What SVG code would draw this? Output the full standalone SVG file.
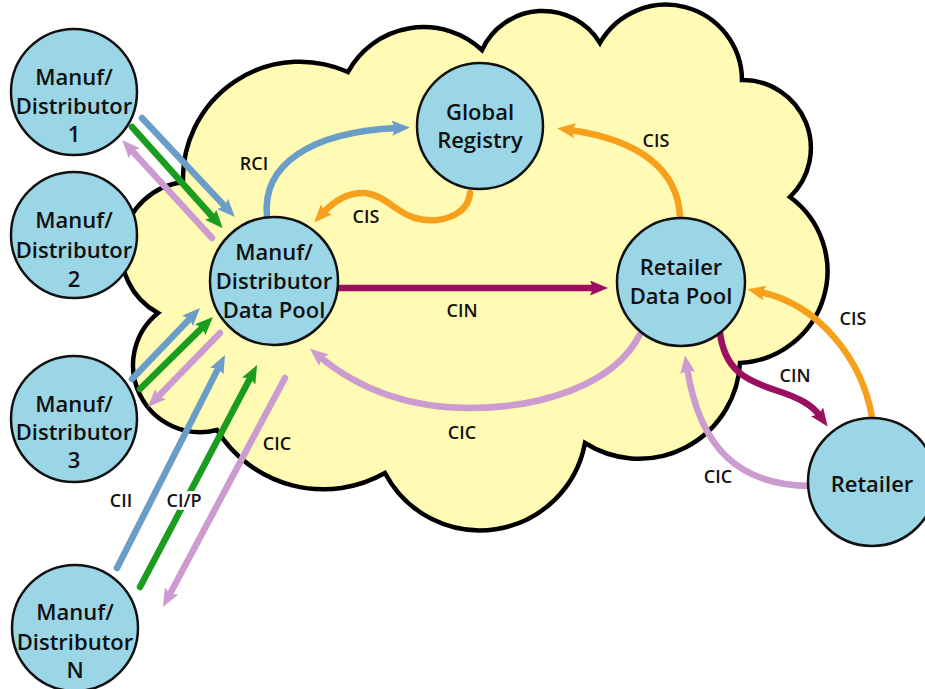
<svg xmlns="http://www.w3.org/2000/svg" width="925" height="689" viewBox="0 0 925 689">
<style>
.cloud{fill:#fffbb4;stroke:#000;stroke-width:4.5;stroke-linejoin:miter}
.node circle{fill:#9bd6e6;stroke:#111;stroke-width:2.5}
.node text{font-family:"Open Sans","Liberation Sans",sans-serif;font-weight:600;font-size:22px;fill:#111;text-anchor:middle}
.c{fill:none;stroke-width:6.5;stroke-linecap:round}
.blue{stroke:#6b9dc9}.green{stroke:#1a9c1e}.pink{stroke:#cc9bd0}.orange{stroke:#f7a01c}.mag{stroke:#9c0e5f}
.lbl{font-family:"Open Sans","Liberation Sans",sans-serif;font-weight:600;font-size:18px;fill:#111;text-anchor:middle}
.halo{stroke:#fff;stroke-width:6;paint-order:stroke;stroke-linejoin:round}
</style>
<defs>
<marker id="hb" markerUnits="userSpaceOnUse" markerWidth="18" markerHeight="15" viewBox="0 0 18 15" refX="5" refY="7.5" orient="auto"><path d="M0,0 L18,7.5 L0,15 L3,7.5 Z" fill="#6b9dc9"/></marker>
<marker id="hg" markerUnits="userSpaceOnUse" markerWidth="18" markerHeight="15" viewBox="0 0 18 15" refX="5" refY="7.5" orient="auto"><path d="M0,0 L18,7.5 L0,15 L3,7.5 Z" fill="#1a9c1e"/></marker>
<marker id="hp" markerUnits="userSpaceOnUse" markerWidth="18" markerHeight="15" viewBox="0 0 18 15" refX="5" refY="7.5" orient="auto"><path d="M0,0 L18,7.5 L0,15 L3,7.5 Z" fill="#cc9bd0"/></marker>
<marker id="ho" markerUnits="userSpaceOnUse" markerWidth="18" markerHeight="15" viewBox="0 0 18 15" refX="5" refY="7.5" orient="auto"><path d="M0,0 L18,7.5 L0,15 L3,7.5 Z" fill="#f7a01c"/></marker>
<marker id="hm" markerUnits="userSpaceOnUse" markerWidth="18" markerHeight="15" viewBox="0 0 18 15" refX="5" refY="7.5" orient="auto"><path d="M0,0 L18,7.5 L0,15 L3,7.5 Z" fill="#9c0e5f"/></marker>
</defs>
<rect width="925" height="689" fill="#fff"/>
<path class="cloud" d="M183,182 A117,117 0 0 1 348,72 A86,86 0 0 1 482,50 A67,67 0 0 1 600,43 A76,76 0 0 1 742,80 A68,68 0 0 1 790,197 A92,92 0 0 1 740,363 A101,101 0 0 1 585,443 A107,107 0 0 1 385,473 A125,125 0 0 1 217,430 A67,67 0 0 1 158,313 A70,70 0 0 1 183,182 Z"/>
<g id="connectors">
<path class="c blue" d="M142,118 L226,207.5" marker-end="url(#hb)"/>
<path class="c green" d="M132,127 L214,218.5" marker-end="url(#hg)"/>
<path class="c pink" d="M212,238 L131,149.6" marker-end="url(#hp)"/>
<path class="c blue" d="M132,379 L191,317.4" marker-end="url(#hb)"/>
<path class="c green" d="M140,389 L203.7,326.1" marker-end="url(#hg)"/>
<path class="c pink" d="M220,333 L157,397.7" marker-end="url(#hp)"/>
<path class="c blue" d="M117,568 L219.1,366.6" marker-end="url(#hb)"/>
<path class="c green" d="M140,587 L251,376.5" marker-end="url(#hg)"/>
<path class="c pink" d="M285,378 L169.1,595.5" marker-end="url(#hp)"/>
<path class="c blue" d="M267,216 C262,165 310,132 397,128" marker-end="url(#hb)"/>
<path class="c orange" d="M470,193 C468,215 440,225 415,218 C395,212 385,195 365,193 C348,192 335,200 323,213" marker-end="url(#ho)"/>
<path class="c orange" d="M680,217 C678,170 640,140 570,130" marker-end="url(#ho)"/>
<path class="c mag" d="M338,288 L595,288" marker-end="url(#hm)"/>
<path class="c pink" d="M640,334 C615,385 540,408 470,408 C410,408 360,390 320,357" marker-end="url(#hp)"/>
<path class="c orange" d="M872,417 C862,360 820,305 760,292" marker-end="url(#ho)"/>
<path class="c mag" d="M720,333 C725,370 745,380 775,390 C800,398 812,405 820,416" marker-end="url(#hm)"/>
<path class="c pink" d="M810,486 C740,485 700,450 687,368" marker-end="url(#hp)"/>
<text class="lbl" x="254" y="170">RCI</text>
<text class="lbl" x="366" y="223">CIS</text>
<text class="lbl" x="656" y="147">CIS</text>
<text class="lbl" x="462" y="317">CIN</text>
<text class="lbl" x="462" y="439">CIC</text>
<text class="lbl" x="853" y="325">CIS</text>
<text class="lbl" x="795" y="382">CIN</text>
<text class="lbl" x="718" y="483">CIC</text>
<text class="lbl" x="277" y="450">CIC</text>
<text class="lbl" x="121" y="507">CII</text>
<text class="lbl halo" x="184" y="507">CI/P</text>
</g>
<g id="manuf1" class="node"><circle cx="74" cy="92" r="63"/><text x="74" y="85">Manuf/</text><text x="74" y="114">Distributor</text><text x="74" y="142">1</text></g>
<g id="manuf2" class="node"><circle cx="74" cy="235" r="63"/><text x="74" y="228">Manuf/</text><text x="74" y="258">Distributor</text><text x="74" y="287">2</text></g>
<g id="manuf3" class="node"><circle cx="74" cy="419" r="63"/><text x="74" y="412">Manuf/</text><text x="74" y="440">Distributor</text><text x="74" y="468">3</text></g>
<g id="manufN" class="node"><circle cx="75" cy="628" r="63"/><text x="75" y="620">Manuf/</text><text x="75" y="650">Distributor</text><text x="75" y="678">N</text></g>
<g id="mdDataPool" class="node"><circle cx="274" cy="281" r="64"/><text x="274" y="260">Manuf/</text><text x="274" y="289">Distributor</text><text x="274" y="318">Data Pool</text></g>
<g id="globalRegistry" class="node"><circle cx="480" cy="126" r="63"/><text x="480" y="120">Global</text><text x="480" y="148">Registry</text></g>
<g id="retailerDataPool" class="node"><circle cx="681" cy="282" r="64"/><text x="681" y="275">Retailer</text><text x="681" y="304">Data Pool</text></g>
<g id="retailer" class="node"><circle cx="872" cy="482" r="64"/><text x="872" y="492">Retailer</text></g>
</svg>
